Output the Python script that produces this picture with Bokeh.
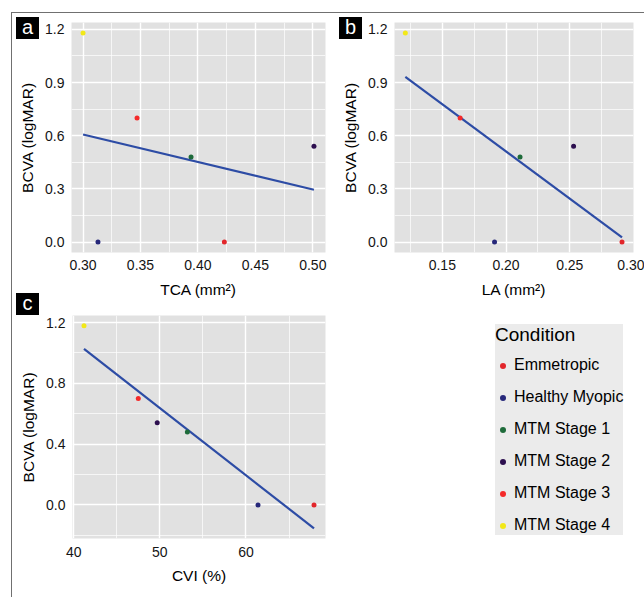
import numpy as np
from bokeh.plotting import figure
from bokeh.models import (ColumnDataSource, FixedTicker, PrintfTickFormatter, Legend,
                          LegendItem, Range1d, Div)
from bokeh.core.properties import value
from bokeh.layouts import row, column
from bokeh.embed import file_html
from bokeh.resources import INLINE

# ---------------- data ----------------
conditions = ["Emmetropic", "Healthy Myopic", "MTM Stage 1", "MTM Stage 2",
              "MTM Stage 3", "MTM Stage 4"]
colors = ["#E2262B", "#27287A", "#1E6B3A", "#2D0F4F", "#F42A2A", "#F2E818"]
bcva = [0.00, 0.00, 0.48, 0.54, 0.70, 1.18]
tca = [0.423, 0.313, 0.394, 0.501, 0.347, 0.300]
la = [0.291, 0.191, 0.211, 0.253, 0.164, 0.121]
cvi = [67.9, 61.4, 53.2, 49.7, 47.5, 41.2]

tca_ticks = [0.30, 0.35, 0.40, 0.45, 0.50]
la_ticks = [0.15, 0.20, 0.25, 0.30]
cvi_ticks = [40, 50, 60]
bcva_ticks_ab = [0.0, 0.3, 0.6, 0.9, 1.2]
bcva_ticks_c = [0.0, 0.4, 0.8, 1.2]
panel_tags = ["a", "b", "c"]

FONT = "Liberation Sans"
PANEL_BG = "#E1E1E1"
LINE_COL = "#2D4CA5"
FRAME_COL = "#707070"


def expand(lo, hi, f=0.05):
    r = hi - lo
    return lo - f * r, hi + f * r


def midpoints(t):
    step = t[1] - t[0]
    return [v - step / 2 for v in t] + [t[-1] + step / 2]


def make_panel(xvals, xlabel, xticks, xfmt, yticks, bl, fw, br, bt, fh, bb, x_min_end=None):
    slope, intercept = np.polyfit(xvals, bcva, 1)
    fx = [min(xvals), max(xvals)]
    fy = [slope * v + intercept for v in fx]
    x0, x1 = expand(min(xvals), max(xvals))
    if x_min_end is not None:
        x1 = max(x1, x_min_end)
    yall = list(bcva) + fy
    y0, y1 = expand(min(yall), max(yall))
    p = figure(frame_width=fw, frame_height=fh, x_range=Range1d(x0, x1),
               y_range=Range1d(y0, y1), output_backend="svg", toolbar_location=None,
               min_border_left=bl, min_border_right=br, min_border_top=bt,
               min_border_bottom=bb)
    p.background_fill_color = PANEL_BG
    p.border_fill_color = None
    p.outline_line_color = None
    p.xaxis.ticker = FixedTicker(ticks=xticks, minor_ticks=midpoints(xticks))
    p.yaxis.ticker = FixedTicker(ticks=yticks, minor_ticks=midpoints(yticks))
    p.xaxis.formatter = PrintfTickFormatter(format=xfmt)
    p.yaxis.formatter = PrintfTickFormatter(format="%.1f")
    for g in (p.xgrid[0], p.ygrid[0]):
        g.grid_line_color = "white"
        g.grid_line_width = 1.4
        g.minor_grid_line_color = "white"
        g.minor_grid_line_width = 0.7
    for ax in (p.xaxis[0], p.yaxis[0]):
        ax.axis_line_color = None
        ax.major_tick_line_color = None
        ax.minor_tick_line_color = None
        ax.major_tick_in = 0
        ax.major_tick_out = 0
        ax.minor_tick_in = 0
        ax.minor_tick_out = 0
        ax.major_label_text_font = FONT
        ax.major_label_text_font_size = "14px"
        ax.major_label_text_color = "#151515"
        ax.axis_label_text_font = FONT
        ax.axis_label_text_font_size = "15.5px"
        ax.axis_label_text_font_style = "normal"
        ax.axis_label_text_color = "#000000"
    p.xaxis.axis_label = xlabel
    p.yaxis.axis_label = "BCVA (logMAR)"
    p.yaxis.major_label_standoff = 7
    p.yaxis.axis_label_standoff = 6
    p.xaxis.major_label_standoff = 7
    p.xaxis.axis_label_standoff = 8
    p.line(fx, fy, line_color=LINE_COL, line_width=2.2)
    src = ColumnDataSource(dict(x=xvals, y=bcva, color=colors, cond=conditions))
    r = p.scatter("x", "y", source=src, fill_color="color", line_color=None, size=5)
    return p, r


pa, ra = make_panel(tca, "TCA (mm²)", tca_ticks, "%.2f", bcva_ticks_ab,
                    71, 254, 5, 22, 230, 60)
pb, rb = make_panel(la, "LA (mm²)", la_ticks, "%.2f", bcva_ticks_ab,
                    64, 239, 11, 22, 230, 60, x_min_end=0.30)
pc, rc = make_panel(cvi, "CVI (%)", cvi_ticks, "%d", bcva_ticks_c,
                    72, 253, 319, 3, 223, 59)
pc.xaxis.major_label_standoff = 8
pc.xaxis.axis_label_standoff = 7

items = [LegendItem(label=value(c), renderers=[rc], index=i) for i, c in enumerate(conditions)]
legend = Legend(items=items, location=(170, 3), title="Condition",
                title_text_font=FONT, title_text_font_size="19px",
                title_text_font_style="normal", title_text_color="black",
                title_standoff=9,
                label_text_font=FONT, label_text_font_size="16px", label_text_color="black",
                glyph_width=15, glyph_height=15, label_height=20, label_standoff=4,
                spacing=12, padding=10, margin=0,
                background_fill_color="#EBEBEB", background_fill_alpha=1.0,
                border_line_color=None)
pc.add_layout(legend, "right")


def tag(txt, left, top):
    return Div(text=txt, width=23, height=22,
               styles={"position": "absolute", "left": f"{left}px", "top": f"{top}px",
                       "background-color": "black", "color": "white",
                       "font-family": FONT, "font-size": "20px", "line-height": "21px",
                       "text-align": "center", "z-index": "10"})


tags = [tag(panel_tags[0], 11, 12), tag(panel_tags[1], 334, 12), tag(panel_tags[2], 11, 288)]

frame_css = {
    "background-image": f"linear-gradient({FRAME_COL}, {FRAME_COL}), "
                        f"linear-gradient({FRAME_COL}, {FRAME_COL})",
    "background-size": "633px 1px, 1px 585px",
    "background-position": "11px 12px, 11px 12px",
    "background-repeat": "no-repeat",
}
layout = column(row(pa, pb), pc, *tags, styles=frame_css)
open("out.html", "w").write(file_html(layout, INLINE))
